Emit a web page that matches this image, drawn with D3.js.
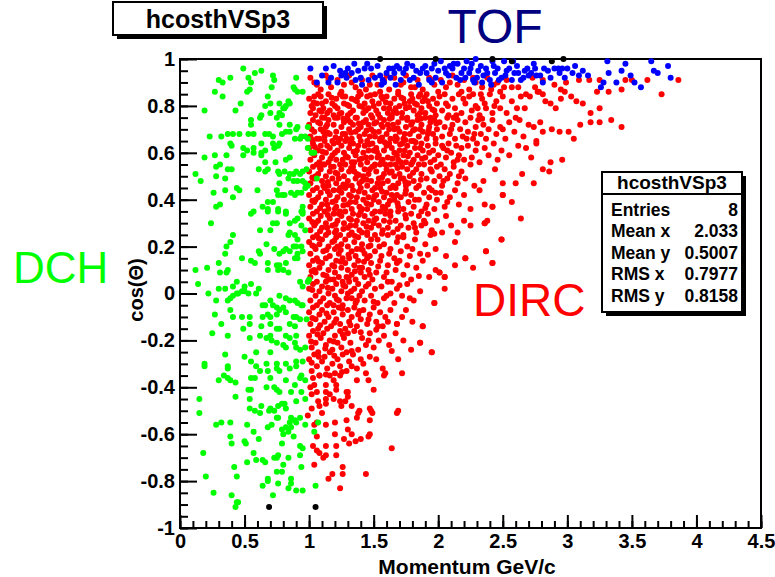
<!DOCTYPE html>
<html><head><meta charset="utf-8">
<script src="https://cdn.jsdelivr.net/npm/d3@7"></script>
<style>body{margin:0;background:#fff}svg{display:block}text{font-family:"Liberation Sans",Arial,Helvetica,sans-serif}</style>
</head><body><svg id="c" width="775" height="577"></svg>
<script>
// DCH (green)
const dch=[[.49,.96],[.63,.95],[.53,.92],[.58,.94],[.39,.92],[.30,.91],[.33,.90],[.72,.93],[.73,.91],[.90,.92],[.55,.90],[.54,.87],[.52,.86],[.27,.86],[.33,.84],[.71,.88],[.88,.88],[.89,.87],[.91,.86],[.95,.86],[.84,.82],[.85,.81],[.82,.80],[.80,.79],[.77,.81],[.68,.84],[.70,.81],[.66,.80],[.47,.81],[.43,.78],[.19,.78],[.62,.75],[.63,.76],[.55,.74],[.55,.72],[.75,.75],[.77,.77],[.79,.76],[.81,.79],[.77,.72],[.85,.72],[.91,.71],[.90,.70],[.99,.71],[.70,.77],[.46,.68],[.41,.68],[.37,.68],[.32,.67],[.23,.67],[.53,.68],[.57,.68],[.66,.68],[.69,.68],[.72,.67],[.79,.68],[.82,.69],[.85,.69],[.89,.66],[.93,.66],[.94,.67],[.97,.67],[.99,.66],[.39,.64],[.40,.63],[.63,.64],[.72,.64],[.77,.64],[.73,.62],[.76,.63],[.49,.62],[.52,.61],[.57,.60],[.63,.60],[.66,.61],[.57,.62],[.63,.59],[.27,.59],[.36,.59],[.19,.58],[.49,.59],[.99,.62],[1.02,.60],[1.04,.60],[.82,.57],[.85,.58],[.74,.56],[.66,.56],[.31,.55],[.28,.54],[.40,.53],[.37,.53],[.61,.53],[.66,.52],[.68,.53],[.76,.52],[.77,.51],[.81,.52],[.85,.51],[.88,.51],[.90,.52],[.93,.51],[.95,.52],[.98,.53],[.12,.51],[.16,.48],[.28,.50],[.35,.49],[.84,.49],[.88,.48],[.91,.48],[.95,.48],[.97,.47],[.97,.45],[.99,.46],[1.06,.49],[.77,.47],[.44,.45],[.46,.44],[.35,.44],[.26,.43],[.60,.44],[.75,.44],[.76,.42],[.79,.42],[.81,.42],[.86,.43],[.89,.42],[.91,.43],[.94,.43],[.41,.41],[.68,.39],[.72,.39],[.28,.37],[.31,.38],[.64,.37],[.68,.36],[.76,.36],[.82,.35],[.57,.35],[.95,.37],[.94,.35],[.95,.34],
[.55,.34],[.68,.35],[.76,.35],[.82,.34],[.95,.35],[.24,.30],[.72,.30],[.75,.30],[.85,.30],[.89,.31],[.91,.32],[.94,.29],[.97,.27],[.62,.27],[.70,.27],[.41,.25],[.85,.26],[.84,.25],[.89,.25],[.91,.23],[.39,.22],[.36,.20],[.35,.17],[.67,.21],[.61,.18],[.62,.17],[.73,.19],[.77,.17],[.80,.18],[.82,.19],[.85,.18],[.88,.20],[.90,.20],[.91,.17],[.94,.20],[.95,.18],[.48,.15],[.55,.14],[.58,.13],[.30,.13],[.68,.13],[.75,.12],[.77,.12],[.82,.13],[.89,.15],[.91,.15],[.12,.10],[.21,.11],[.31,.09],[.36,.09],[.37,.10],[.68,.10],[.76,.10],[.80,.10],[.84,.09],[.99,.05],[1.0,.06],[.14,.04],[.44,.05],[.55,.04],[.41,.03],[.50,.03],[.93,.05],[.95,.03],[.22,.00],[.30,.02],[.35,.02],[.39,-.02],[.41,-.01],[.44,0],[.45,.00],[.48,.01],[.50,.01],[.53,.00],[.61,.02],[.59,.00],[.77,-.01],[.82,-.02],[.85,-.03],[.89,-.03],[.91,-.04],[.94,-.05],[.95,-.05],[.28,-.03],[.37,-.03],[.39,-.07],[.64,-.05],[.66,-.05],[.70,-.03],[.72,-.05],[.75,-.06],[.77,-.07],[.80,-.06],[.27,-.09],[.41,-.10],[.48,-.10],[.54,-.10],[.64,-.10],[.68,-.09],[.70,-.10],[.75,-.09],[.82,-.08],[.88,-.10],[.90,-.10],[.93,-.11],[.98,-.11],[.32,-.13],[.49,-.15],[.54,-.13],[.63,-.14],[.70,-.13],[.75,-.15],[.77,-.15],[.85,-.13],[.89,-.14],[.25,-.17],[.37,-.18],[.54,-.19],[.62,-.18],[.70,-.18],[.67,-.19],[.71,-.20],[.82,-.18],[.85,-.19],[.90,-.18],[.75,-.21],[.80,-.22],[.82,-.23],[.89,-.21],[.90,-.23],[.93,-.24],[.97,-.23],[.59,-.25],[.70,-.25],[.35,-.26],[.50,-.27],[.55,-.29],[.67,-.30],[.75,-.30],[.82,-.30],[.90,-.29],[.95,-.29],[.19,-.30],[.37,-.31],
[.19,-.31],[.37,-.32],[.34,-.35],[.30,-.37],[.39,-.37],[.43,-.38],[.37,-.36],[.62,-.33],[.68,-.33],[.75,-.32],[.59,-.31],[.77,-.33],[.85,-.32],[.90,-.31],[.94,-.35],[.93,-.36],[.55,-.36],[.58,-.36],[.70,-.36],[.82,-.37],[.89,-.39],[.97,-.37],[.15,-.45],[.15,-.51],[.43,-.44],[.53,-.41],[.55,-.41],[.54,-.45],[.67,-.40],[.73,-.40],[.75,-.41],[.77,-.42],[.86,-.42],[.94,-.42],[.97,-.45],[.90,-.46],[.63,-.48],[.54,-.49],[.58,-.50],[.62,-.51],[.70,-.49],[.69,-.50],[.73,-.50],[.76,-.48],[.79,-.47],[.81,-.47],[.82,-.49],[.75,-.53],[.76,-.53],[.86,-.53],[.89,-.54],[.90,-.55],[.93,-.53],[.85,-.55],[.97,-.56],[.28,-.56],[.32,-.55],[.39,-.55],[.52,-.56],[.68,-.57],[.71,-.56],[.79,-.58],[.82,-.57],[.86,-.57],[.80,-.60],[.84,-.59],[.88,-.61],[.57,-.59],[.39,-.61],[.40,-.64],[.50,-.63],[.51,-.64],[.61,-.62],[.79,-.64],[.93,-.65],[.93,-.69],[.95,-.66],[.57,-.68],[.18,-.68],[.52,-.72],[.59,-.71],[.64,-.71],[.66,-.72],[.73,-.70],[.76,-.69],[.75,-.70],[.84,-.70],[.42,-.74],[.44,-.78],[.75,-.76],[.79,-.76],[.80,-.73],[.86,-.79],[.94,-.74],[.20,-.78],[.68,-.79],[.68,-.80],[.76,-.81],[.86,-.81],[.64,-.82],[.84,-.83],[.90,-.84],[.95,-.84],[1.05,-.82],[.26,-.85],[.40,-.86],[.72,-.86],[.45,-.89],[.44,-.89],[.43,-.91],[1.07,-.55],[1.04,-.59]];

// DIRC (red)
const dirc=[[1.01,.92],[1.06,.89],[1.13,.93],[1.17,.88],[1.22,.91],[1.27,.89],[1.31,.93],[1.36,.88],[1.41,.91],[1.44,.87],[1.49,.93],[1.53,.89],[1.58,.91],[1.62,.87],[1.66,.92],[1.71,.89],[1.75,.93],[1.79,.88],[1.84,.91],[1.88,.87],[1.93,.92],[1.97,.89],[2.02,.91],[2.06,.88],[2.11,.93],[2.15,.89],[2.2,.91],[2.24,.87],[2.29,.9],[2.34,.88],[2.38,.92],[2.43,.89],[2.48,.86],[2.53,.91],[2.57,.88],[1.09,.87],[1.25,.86],[1.39,.86],[1.55,.86],[1.69,.86],[1.86,.85],[2,.86],[2.18,.86],[2.33,.85],[2.46,.9],
[2.62,.88],[2.73,.92],[2.78,.86],[2.81,.91],[2.95,.87],[2.99,.9],[3.09,.91],[3.17,.91],[3.25,.91],[3.23,.86],[3.32,.86],[3.42,.87],[3.45,.91],[3.5,.91],[3.62,.91],[3.73,.85],[3.86,.91],[2.68,.85],[2.9,.89],
[1,.83],[1.01,.77],[1.02,.8],[1.04,.84],[1.05,.76],[1.06,.81],[1.08,.78],[1.09,.84],[1.11,.79],[1.12,.75],[1.13,.82],[1.15,.85],[1.16,.78],[1.18,.81],[1.19,.76],[1.21,.83],[1.22,.79],[1.24,.85],[1.25,.77],[1.27,.81],[1.28,.84],[1.3,.76],[1.31,.8],[1.33,.83],[1.34,.78],[1.36,.75],[1.37,.82],[1.39,.8],[1.4,.85],[1.42,.77],[1.43,.81],[1.45,.84],[1.46,.79],[1.48,.76],[1.49,.82],[1.51,.85],[1.52,.78],[1.54,.81],[1.55,.75],[1.57,.83],[1.58,.79],[1.6,.84],[1.61,.77],[1.63,.81],[1.64,.76],[1.66,.83],[1.67,.79],[1.69,.85],[1.7,.8],[1.72,.77],[1.73,.83],[1.75,.79],[1.76,.75],[1.78,.82],[1.79,.85],[1.81,.78],[1.82,.81],[1.84,.76],[1.85,.84],[1.87,.79],[1.88,.82],[1.9,.77],[1.91,.85],[1.93,.8],[1.94,.75],[1.96,.83],[1.97,.78],[1.99,.81],
[1.03,.79],[1.07,.85],[1.1,.81],[1.14,.77],[1.2,.8],[1.26,.84],[1.32,.77],[1.38,.84],[1.44,.78],[1.5,.8],[1.56,.84],[1.62,.79],[1.68,.77],[1.74,.81],[1.8,.83],[1.86,.77],[1.92,.82],[1.98,.76],
[2.01,.84],[2.03,.78],[2.06,.81],[2.08,.76],[2.11,.83],[2.13,.79],[2.16,.85],[2.18,.77],[2.21,.81],[2.24,.84],[2.26,.78],[2.29,.8],[2.32,.76],[2.34,.83],[2.37,.79],[2.4,.85],[2.42,.77],[2.45,.82],[2.48,.79],[2.5,.84],[2.14,.76],[2.27,.85],[2.05,.85],[2.36,.81],
[2.53,.77],[2.57,.82],[2.61,.79],[2.64,.84],[2.6,.75],[3.07,.82],[3.03,.84],[2.98,.86],[2.95,.83],[2.91,.79],[2.87,.81],[2.83,.82],[2.81,.85],[2.77,.86],[2.75,.88],[2.71,.84],[2.67,.79],[3.12,.81],[3.25,.79],[3.18,.77],
[1,.72],[1.01,.67],[1.03,.74],[1.04,.69],[1.06,.66],[1.07,.73],[1.09,.7],[1.1,.75],[1.12,.67],[1.13,.71],[1.15,.74],[1.16,.68],[1.18,.65],[1.19,.72],[1.21,.69],[1.22,.75],[1.24,.66],[1.25,.71],[1.27,.73],[1.28,.68],[1.3,.74],[1.31,.7],[1.33,.66],[1.34,.72],[1.36,.69],[1.37,.75],[1.39,.67],[1.4,.71],[1.42,.73],[1.43,.68],[1.45,.65],[1.46,.72],[1.48,.7],[1.49,.75],[1.51,.67],[1.52,.73],[1.54,.69],[1.55,.66],[1.57,.71],[1.58,.74],[1.6,.68],[1.61,.72],[1.63,.66],[1.64,.75],[1.66,.7],[1.67,.67],[1.69,.73],[1.7,.69],[1.72,.75],[1.73,.66],[1.75,.71],[1.76,.74],[1.78,.68],[1.79,.72],[1.81,.65],[1.82,.7],[1.84,.74],[1.85,.67],[1.87,.72],[1.88,.69],[1.9,.75],[1.91,.66],[1.93,.71],[1.94,.73],[1.96,.68],[1.97,.74],[1.99,.7],
[1.02,.7],[1.08,.66],[1.14,.72],[1.2,.75],[1.26,.68],[1.32,.73],[1.38,.7],[1.44,.74],[1.5,.69],[1.56,.72],[1.62,.7],[1.68,.66],[1.74,.68],[1.8,.73],[1.86,.7],[1.92,.68],[1.98,.66],[1.11,.69],[1.29,.66],[1.47,.67],[1.65,.72],
[2.01,.73],[2.03,.67],[2.05,.71],[2.07,.75],[2.09,.68],[2.11,.72],[2.13,.66],[2.15,.74],[2.17,.7],[2.19,.67],[2.21,.73],[2.23,.69],[2.25,.75],[2.27,.66],[2.29,.71],[2.31,.74],[2.33,.68],[2.35,.72],[2.37,.66],[2.39,.7],[2.12,.75],[2.28,.68],
[2.42,.74],[2.45,.68],[2.48,.71],[2.52,.66],[2.55,.73],[2.59,.69],[2.63,.74],[2.66,.67],[2.7,.72],[2.74,.71],[2.76,.65],[2.79,.73],
[2.88,.7],[2.94,.69],[3.01,.69],[3.1,.72],[3.18,.73],[3.25,.73],[3.34,.74],[3.42,.71],[3.05,.66],[2.81,.69],
[1,.62],[1.01,.57],[1.03,.64],[1.04,.59],[1.06,.55],[1.07,.61],[1.09,.63],[1.1,.58],[1.12,.65],[1.13,.6],[1.15,.56],[1.16,.62],[1.18,.59],[1.19,.64],[1.21,.57],[1.22,.61],[1.24,.55],[1.25,.63],[1.27,.6],[1.28,.65],[1.3,.58],[1.31,.62],[1.33,.56],[1.34,.64],[1.36,.59],[1.37,.61],[1.39,.57],[1.4,.65],[1.42,.6],[1.43,.63],[1.45,.56],[1.46,.61],[1.48,.58],[1.49,.64],[1.51,.55],[1.52,.62],[1.54,.59],[1.55,.65],[1.57,.57],[1.58,.61],[1.6,.63],[1.61,.58],[1.63,.55],[1.64,.62],[1.66,.6],[1.67,.65],[1.69,.57],[1.7,.61],[1.72,.64],[1.73,.59],[1.75,.56],[1.76,.63],[1.78,.6],[1.79,.65],[1.81,.57],[1.82,.62],[1.84,.59],[1.85,.55],[1.87,.64],[1.88,.61],
[1.02,.6],[1.08,.56],[1.14,.63],[1.2,.6],[1.26,.57],[1.32,.64],[1.38,.63],[1.44,.58],[1.5,.61],[1.56,.56],[1.62,.64],[1.68,.59],[1.74,.61],[1.8,.56],[1.86,.62],[1.11,.55],[1.35,.56],[1.53,.58],[1.71,.56],
[1.9,.58],[1.92,.63],[1.94,.56],[1.96,.61],[1.98,.64],[2,.59],[2.02,.55],[2.04,.62],[2.06,.58],[2.08,.64],[2.1,.6],[2.12,.56],[2.14,.63],[2.16,.59],[2.18,.62],[2.2,.57],[1.97,.57],[2.07,.61],
[2.23,.63],[2.26,.58],[2.29,.61],[2.32,.56],[2.36,.62],[2.39,.59],[2.43,.64],[2.46,.57],[2.49,.61],
[2.55,.59],[2.62,.63],[2.68,.62],[2.76,.64],[2.87,.56],[2.96,.57],[2.72,.58],
[1,.52],[1.01,.47],[1.03,.54],[1.04,.49],[1.06,.45],[1.07,.51],[1.09,.53],[1.1,.48],[1.12,.55],[1.13,.5],[1.15,.46],[1.16,.52],[1.18,.49],[1.19,.54],[1.21,.47],[1.22,.51],[1.24,.45],[1.25,.53],[1.27,.5],[1.28,.55],[1.3,.48],[1.31,.52],[1.33,.46],[1.34,.54],[1.36,.49],[1.37,.51],[1.39,.47],[1.4,.55],[1.42,.5],[1.43,.53],[1.45,.46],[1.46,.51],[1.48,.48],[1.49,.54],[1.51,.45],[1.52,.52],[1.54,.49],[1.55,.55],[1.57,.47],[1.58,.51],[1.6,.53],[1.61,.48],[1.63,.45],[1.64,.52],[1.66,.5],[1.67,.55],[1.69,.47],[1.7,.51],[1.72,.54],[1.73,.49],[1.75,.46],[1.76,.53],[1.78,.5],[1.79,.55],
[1.05,.5],[1.11,.46],[1.17,.54],[1.23,.49],[1.29,.46],[1.35,.52],[1.41,.48],[1.47,.53],[1.53,.47],[1.59,.55],[1.65,.46],[1.71,.49],[1.77,.47],
[1.81,.48],[1.83,.53],[1.85,.46],[1.87,.51],[1.89,.55],[1.91,.49],[1.93,.45],[1.95,.52],[1.97,.48],[1.99,.54],[2.01,.5],[2.03,.46],[2.05,.53],[2.07,.49],[2.09,.51],
[2.12,.54],[2.15,.47],[2.18,.52],[2.21,.49],[2.25,.55],[2.28,.46],
[2.35,.48],[2.44,.53],[2.5,.47],[2.6,.47],[2.65,.51],[2.74,.47],[2.81,.53],[2.86,.52],
[1,.42],[1.01,.37],[1.03,.44],[1.04,.39],[1.06,.35],[1.07,.41],[1.09,.43],[1.1,.38],[1.12,.45],[1.13,.4],[1.15,.36],[1.16,.42],[1.18,.39],[1.19,.44],[1.21,.37],[1.22,.41],[1.24,.35],[1.25,.43],[1.27,.4],[1.28,.45],[1.3,.38],[1.31,.42],[1.33,.36],[1.34,.44],[1.36,.39],[1.37,.41],[1.39,.37],[1.4,.45],[1.42,.4],[1.43,.43],[1.45,.36],[1.46,.41],[1.48,.38],[1.49,.44],[1.51,.35],[1.52,.42],[1.54,.39],[1.55,.45],[1.57,.37],[1.58,.41],[1.6,.43],[1.61,.38],[1.63,.35],[1.64,.42],[1.66,.4],[1.67,.45],[1.69,.37],
[1.05,.4],[1.14,.38],[1.23,.44],[1.32,.39],[1.41,.36],[1.5,.4],[1.59,.36],[1.68,.42],[1.2,.36],
[1.71,.41],[1.73,.36],[1.75,.44],[1.77,.39],[1.79,.42],[1.81,.37],[1.83,.45],[1.85,.4],[1.87,.35],[1.89,.43],[1.91,.38],[1.93,.41],[1.95,.44],[1.97,.36],[1.99,.4],
[2.02,.43],[2.05,.37],[2.09,.41],[2.13,.44],[2.16,.38],[2.2,.42],
[2.25,.36],[2.32,.44],[2.36,.38],[2.42,.37],[2.5,.42],[2.57,.39],
[1,.32],[1.01,.27],[1.03,.34],[1.04,.29],[1.06,.25],[1.07,.31],[1.09,.33],[1.1,.28],[1.12,.35],[1.13,.3],[1.15,.26],[1.16,.32],[1.18,.29],[1.19,.34],[1.21,.27],[1.22,.31],[1.24,.25],[1.25,.33],[1.27,.3],[1.28,.35],[1.3,.28],[1.31,.32],[1.33,.26],[1.34,.34],[1.36,.29],[1.37,.31],[1.39,.27],[1.4,.35],[1.42,.3],[1.43,.33],[1.45,.26],[1.46,.31],[1.48,.28],[1.49,.34],[1.51,.25],[1.52,.32],[1.54,.29],[1.55,.35],[1.57,.27],[1.58,.31],
[1.05,.3],[1.14,.28],[1.23,.34],[1.32,.29],[1.41,.26],[1.5,.3],[1.59,.34],[1.2,.26],
[1.61,.28],[1.63,.33],[1.65,.26],[1.67,.31],[1.69,.35],[1.71,.29],[1.73,.25],[1.75,.32],[1.77,.28],[1.79,.34],[1.81,.3],[1.83,.26],[1.85,.33],[1.87,.29],[1.89,.31],
[1.92,.34],[1.95,.27],[1.99,.31],[2.03,.26],[2.06,.33],[2.1,.29],
[2.2,.31],[2.25,.29],[2.36,.3],[2.38,.31],[2.64,.32],[2.15,.26],
[1,.22],[1.01,.17],[1.03,.24],[1.05,.19],[1.06,.15],[1.08,.21],[1.1,.23],[1.11,.18],[1.13,.25],[1.15,.2],[1.16,.16],[1.18,.22],[1.2,.19],[1.21,.24],[1.23,.17],[1.25,.21],[1.26,.15],[1.28,.23],[1.3,.2],[1.31,.25],[1.33,.18],[1.35,.22],[1.36,.16],[1.38,.24],[1.4,.19],[1.41,.21],[1.43,.17],[1.45,.25],[1.46,.2],[1.48,.23],[1.04,.2],[1.22,.2],[1.37,.19],[1.47,.16],
[1.51,.18],[1.53,.23],[1.56,.16],[1.58,.21],[1.61,.25],[1.63,.19],[1.66,.15],[1.68,.22],[1.71,.18],[1.73,.24],[1.76,.2],[1.78,.16],
[1.82,.23],[1.86,.17],[1.9,.21],[1.94,.25],[1.98,.19],
[2.06,.16],[2.13,.22],[2.21,.15],[2.37,.18],[2.49,.23],
[1,.12],[1.01,.07],[1.03,.14],[1.05,.09],[1.06,.05],[1.08,.11],[1.1,.13],[1.11,.08],[1.13,.15],[1.15,.1],[1.16,.06],[1.18,.12],[1.2,.09],[1.21,.14],[1.23,.07],[1.25,.11],[1.26,.05],[1.28,.13],[1.3,.1],[1.31,.15],[1.33,.08],[1.35,.12],[1.36,.06],[1.38,.14],[1.4,.09],[1.41,.11],[1.43,.07],[1.45,.15],[1.46,.1],[1.48,.13],[1.04,.1],[1.19,.06],[1.29,.07],[1.39,.11],[1.49,.06],
[1.52,.09],[1.55,.14],[1.58,.07],[1.61,.12],[1.64,.05],[1.67,.1],[1.7,.14],[1.73,.08],[1.76,.12],[1.79,.06],
[1.83,.11],[1.88,.14],[1.93,.07],[1.98,.1],
[2.01,.09],[2.05,.07],[2.13,.12],[2.42,.13],[2.27,.11],
[1,.02],[1.01,-.03],[1.03,.04],[1.05,-.01],[1.06,-.05],[1.08,.01],[1.1,.03],[1.11,-.02],[1.13,.05],[1.15,0],[1.16,-.04],[1.18,.02],[1.2,-.01],[1.21,.04],[1.23,-.03],[1.25,.01],[1.26,-.05],[1.28,.03],[1.3,0],[1.31,.05],[1.33,-.02],[1.35,.02],[1.36,-.04],[1.38,.04],[1.19,-.05],[1.29,-.02],[1.39,-.01],
[1.41,.01],[1.43,-.03],[1.46,.04],[1.48,-.01],[1.51,.02],[1.53,-.04],[1.56,.03],[1.58,-.02],[1.61,.05],[1.63,0],[1.66,-.04],[1.68,.02],
[1.72,-.01],[1.76,.04],[1.81,-.03],[1.86,.01],
[1.97,-.04],[2.05,.02],
[1,-.08],[1.01,-.13],[1.03,-.06],[1.05,-.11],[1.07,-.15],[1.08,-.09],[1.1,-.07],[1.12,-.12],[1.14,-.05],[1.15,-.1],[1.17,-.14],[1.19,-.08],[1.21,-.11],[1.23,-.06],[1.24,-.13],[1.26,-.09],[1.28,-.15],[1.3,-.07],[1.31,-.12],[1.33,-.1],[1.35,-.06],[1.37,-.14],[1.38,-.09],[1.4,-.11],
[1.42,-.07],[1.45,-.13],[1.47,-.09],[1.5,-.06],[1.52,-.12],[1.55,-.08],[1.57,-.14],[1.59,-.1],
[1.63,-.07],[1.68,-.13],[1.72,-.1],[1.8,-.12],[1.88,-.14],
[1,-.18],[1.02,-.23],[1.03,-.16],[1.05,-.21],[1.07,-.25],[1.09,-.19],[1.11,-.17],[1.13,-.22],[1.14,-.15],[1.16,-.2],[1.18,-.24],[1.2,-.18],[1.22,-.21],[1.24,-.16],[1.25,-.23],[1.27,-.19],[1.29,-.25],[1.3,-.17],
[1.32,-.21],[1.35,-.16],[1.38,-.24],[1.41,-.19],[1.44,-.22],[1.47,-.17],[1.5,-.23],[1.54,-.2],[1.58,-.18],
[1.62,-.22],[1.67,-.17],[1.73,-.2],[1.79,-.24],[1.86,-.21],[1.95,-.25],
[1,-.28],[1.02,-.33],[1.04,-.26],[1.06,-.31],[1.08,-.35],[1.1,-.29],[1.12,-.27],[1.14,-.32],[1.16,-.25],[1.18,-.3],[1.2,-.34],[1.22,-.28],[1.24,-.31],[1.26,-.26],[1.29,-.33],
[1.31,-.29],[1.34,-.26],[1.37,-.32],[1.4,-.28],[1.44,-.34],[1.47,-.27],
[1.57,-.32],[1.59,-.34],[1.69,-.28],[1.72,-.34],
[1.37,-.37],[1.46,-.37],[1.5,-.41],[1.01,-.4],[1.04,-.39],[1.13,-.39],[1.21,-.39],[1.13,-.42],[1.21,-.41],[1.29,-.42],[1.3,-.42],[1.02,-.43],[1.07,-.46],[1.13,-.45],[1.19,-.45],[1.24,-.46],[1.28,-.46],[1.3,-.44],[1.02,-.49],[1.08,-.48],[1.13,-.47],[.99,-.52],[1.04,-.56],[1.06,-.61],[1.13,-.56],[1.2,-.55],[1.29,-.54],[1.37,-.53],[1.38,-.51],[1.39,-.5],[1.47,-.49],[1.49,-.51],[1.47,-.54],[1.3,-.58],[1.33,-.6],[1.4,-.62],[1.46,-.61],[1.36,-.63],[1.31,-.64],[1.21,-.65],[1.13,-.65],[1.08,-.68],[1.06,-.67],[1.03,-.65],[1.04,-.73],[1.15,-.79],[1.18,-.77],[1.26,-.74],[1.26,-.77],[1.24,-.83],[1.44,-.77],[1.64,-.66],[1.68,-.51],[1.69,-.5],[1.13,-.69],[1.21,-.69],[1.11,-.7],[1.03,-.36],[1.08,-.35],[1.16,-.35],[1.24,-.35],[1.19,-.37],[1.58,-.35],[1.48,-.5],[1.47,-.6],[1.95,-.25],[1.86,-.21],[1.88,-.14],[1.68,-.13],[1.97,-.04],[2.05,.07],[2.01,.09],[2.49,.23],[2.37,.18],[2.42,.13],[2.21,.15],[2.5,.42],[2.42,.37],[2.36,.3],
[1.04,.9],[1.15,.91],[1.33,.9],[1.47,.89],[1.6,.93],[1.73,.9],[1.82,.88],[1.95,.91],[2.09,.9],[2.27,.92],[2.41,.87],[2.51,.88],
[1.035,.815],[1.095,.775],[1.175,.835],[1.235,.765],[1.295,.805],[1.355,.825],[1.415,.795],[1.475,.845],[1.535,.765],[1.595,.815],[1.655,.775],[1.715,.835],[1.775,.795],[1.835,.805],[1.895,.835],[1.955,.785],[2.075,.8],[2.195,.83],[2.305,.79],[2.435,.8],
[1.025,.655],[1.085,.725],[1.145,.685],[1.205,.665],[1.265,.745],[1.325,.685],[1.385,.725],[1.445,.695],[1.505,.725],[1.565,.665],[1.625,.745],[1.685,.705],[1.745,.655],[1.805,.695],[1.865,.745],[1.925,.695],[1.985,.725],[2.1,.7],[2.22,.66],[2.34,.745],[2.5,.7],
[1.045,.625],[1.105,.605],[1.165,.575],[1.225,.645],[1.285,.585],[1.345,.605],[1.405,.575],[1.465,.635],[1.525,.605],[1.585,.645],[1.645,.575],[1.705,.635],[1.765,.585],[1.825,.645],[1.875,.575],[1.93,.6],[2.03,.63],[2.15,.57],[2.3,.64],
[1.025,.495],[1.085,.535],[1.145,.475],[1.205,.515],[1.265,.465],[1.325,.535],[1.385,.505],[1.445,.485],[1.505,.545],[1.565,.495],[1.625,.515],[1.685,.535],[1.745,.475],[1.805,.515],[1.865,.485],[1.94,.53],[2.04,.48],[2.16,.5],
[1.025,.395],[1.085,.365],[1.145,.435],[1.205,.395],[1.265,.375],[1.325,.415],[1.385,.435],[1.445,.385],[1.505,.415],[1.565,.435],[1.625,.395],[1.685,.385],[1.745,.425],[1.82,.4],[1.9,.365],[1.98,.43],[2.07,.39],
[1.025,.305],[1.085,.265],[1.145,.335],[1.205,.295],[1.265,.275],[1.325,.315],[1.385,.335],[1.445,.285],[1.505,.315],[1.565,.255],[1.625,.305],[1.685,.275],[1.745,.335],[1.82,.28],[1.9,.3],[1.97,.255],
[1.025,.205],[1.075,.235],[1.135,.185],[1.195,.225],[1.245,.185],[1.305,.165],[1.355,.245],[1.415,.185],[1.475,.205],[1.545,.2],[1.62,.17],[1.69,.24],[1.8,.19],[1.92,.165],
[1.02,.095],[1.075,.135],[1.135,.075],[1.195,.115],[1.245,.135],[1.305,.065],[1.355,.095],[1.425,.135],[1.47,.08],[1.535,.115],[1.6,.09],[1.68,.13],[1.85,.075],
[1.025,.015],[1.085,-.035],[1.145,.025],[1.215,-.025],[1.265,.035],[1.325,.01],[1.37,-.03],[1.44,.03],[1.5,-.035],[1.6,-.01],[1.7,.035],[1.78,-.02],
[1.025,-.105],[1.085,-.135],[1.135,-.085],[1.195,-.125],[1.255,-.065],[1.32,-.135],[1.39,-.075],[1.46,-.11],[1.535,-.14],[1.61,-.12],[1.75,-.07],
[1.015,-.205],[1.065,-.175],[1.125,-.235],[1.19,-.205],[1.26,-.175],[1.33,-.245],[1.4,-.165],[1.46,-.2],[1.52,-.155],[1.64,-.245],
[1.02,-.295],[1.075,-.27],[1.13,-.345],[1.195,-.265],[1.255,-.335],[1.33,-.31],[1.42,-.3],[1.52,-.28],
[1.06,-.42],[1.16,-.43],[1.25,-.48],[1.1,-.51],[1.2,-.6],[1.33,-.48],[1.06,-.55],[1.27,-.62]];

// TOF (blue)
const tof=[[1.01,.96],[1.13,.96],[1.06,.90],[1.15,.90],[1.24,.95],[1.28,.94],[1.30,.96],[1.33,.94],[1.35,.98],[1.38,.95],[1.40,.92],[1.43,.96],[1.46,.91],[1.48,.96],[1.29,.92],[1.25,.93],
[1.51,.92],[1.55,.93],[1.57,.91],[1.58,.90],[1.60,.94],[1.62,.96],[1.65,.96],[1.68,.97],[1.66,.94],[1.70,.96],[1.73,.94],[1.75,.96],[1.78,.91],[1.80,.97],[1.83,.95],[1.86,.94],[1.88,.96],[1.91,.94],[1.93,.91],[1.95,.96],[1.97,.98],[2.00,.95],[2.02,.99],[2.05,.96],[2.06,.94],[2.09,.97],[2.11,.96],[2.14,.92],[2.15,.98],[2.18,.94],[2.20,.96],[2.22,.99],[2.24,.94],[2.25,.96],[2.27,.91],[2.28,.90],[2.29,1.0],[2.31,.95],[2.33,.97],[2.35,.93],[2.37,.96],[2.40,.91],[2.41,.89],[2.42,.99],[2.44,.94],[2.46,.96],[2.49,.92],[2.51,.99],[2.53,.95],[2.55,.96],[2.58,.99],[2.59,.94],[2.62,.94],[2.64,.91],[2.67,.95],[2.69,.96],[2.72,.94],[2.75,.96],[2.76,.93],[2.81,.90],[2.82,.96],[2.87,.92],[2.90,.96],[2.93,.96],[2.94,.94],[2.96,.96],[3.00,.96],[3.04,.94],[3.09,.93],[3.16,.93],
[3.31,.99],[3.32,.94],[3.42,.95],[3.45,.98],[3.49,.93],[3.52,.90],[3.57,.88],[3.65,.99],[3.67,.95],[3.70,.94],[3.78,.97],[3.80,.92],[3.38,.90],[3.26,.88],[3.28,.90],
[1.10,.93],[1.19,.97],[1.22,.90],[1.36,.91],[1.45,.98],[1.53,.97],[1.56,.89],[1.63,.92],[1.71,.91],[1.76,.98],[1.81,.92],[1.85,.89],[1.90,.97],[1.98,.92],[2.03,.90],[2.08,.93],[2.12,.98],[2.17,.91],[2.21,.92],[2.26,.98],[2.30,.92],[2.34,.90],[2.38,.94],[2.43,.97],[2.47,.91],[2.52,.93],[2.57,.91],[2.61,.97],[2.66,.92],[2.70,.93],[2.74,.98],[2.79,.93],[2.85,.95],[2.98,.92],[3.06,.97],[3.12,.95],[1.17,.92],[1.41,.89],[1.67,.89],[1.95,.90]];

// other (black)
const other=[[1.55,1.0],[1.98,1.0],[2.42,1.0],[2.57,.99],[2.88,.99],[2.97,1.0],[.69,-.91],[1.05,-.91]];

const xTickValues=[0,0.5,1,1.5,2,2.5,3,3.5,4,4.5];
const xTickLabels=["0","0.5","1","1.5","2","2.5","3","3.5","4","4.5"];
const yTickValues=[-1,-0.8,-0.6,-0.4,-0.2,0,0.2,0.4,0.6,0.8,1];
const yTickLabels=["-1","-0.8","-0.6","-0.4","-0.2","0","0.2","0.4","0.6","0.8","1"];
const statLabels=["Entries","Mean x","Mean y","RMS x","RMS y"];
const statValues=["8","2.033","0.5007","0.7977","0.8158"];
const histName="hcosthVSp3";

const svg=d3.select("#c");
const x=d3.scaleLinear().domain([0,4.5]).range([180,761]);
const y=d3.scaleLinear().domain([-1,1]).range([528,59]);

// frame
svg.append("rect").attr("x",180).attr("y",59).attr("width",581).attr("height",469)
  .attr("fill","none").attr("stroke","#000").attr("stroke-width",2);

function styleAxis(g){g.select(".domain").remove();g.selectAll(".tick line").attr("stroke","#000").attr("stroke-width",2);
  g.selectAll(".tick text").attr("fill","#000").style("font-family",'"Liberation Sans",Arial,sans-serif').style("font-weight","bold").style("font-size","20px");}

// x axis
svg.append("g").attr("transform","translate(0,528)")
  .call(d3.axisBottom(x).tickValues(x.ticks(45)).tickSize(-7).tickFormat("")).call(styleAxis);
svg.append("g").attr("transform","translate(0,528)")
  .call(d3.axisBottom(x).tickValues(xTickValues).tickSize(-13).tickPadding(6).tickFormat((d,i)=>xTickLabels[i])).call(styleAxis);
// y axis
svg.append("g").attr("transform","translate(180,0)")
  .call(d3.axisLeft(y).tickValues(y.ticks(40)).tickSize(-8).tickFormat("")).call(styleAxis);
svg.append("g").attr("transform","translate(180,0)")
  .call(d3.axisLeft(y).tickValues(yTickValues).tickSize(-17).tickPadding(5).tickFormat((d,i)=>yTickLabels[i])).call(styleAxis);

// axis titles
svg.append("text").attr("x",467).attr("y",574).attr("text-anchor","middle")
  .style("font-weight","bold").style("font-size","21px").text("Momentum GeV/c");
svg.append("text").attr("transform","translate(143,290) rotate(-90)").attr("text-anchor","middle")
  .style("font-weight","bold").style("font-size","20px").text("cos(\u0398)");

// points
const R=3;
function dots(data,color){svg.append("g").selectAll("circle").data(data).join("circle")
  .attr("cx",d=>x(d[0])).attr("cy",d=>y(d[1])).attr("r",R).attr("fill",color);}
dots(dirc,"#ff0000");
dots(dch,"#00ff00");
dots(tof,"#0000ff");
dots(other,"#000000");

// title box
svg.append("rect").attr("x",117).attr("y",6).attr("width",210).attr("height",33).attr("fill","#000");
svg.append("rect").attr("x",113).attr("y",2).attr("width",210).attr("height",33).attr("fill","#fff").attr("stroke","#000").attr("stroke-width",2);
svg.append("text").attr("x",218).attr("y",28).attr("text-anchor","middle")
  .style("font-weight","bold").style("font-size","25px").text(histName);

// stats box
svg.append("rect").attr("x",606).attr("y",176).attr("width",140).attr("height",140).attr("fill","#000");
svg.append("rect").attr("x",602).attr("y",172).attr("width",140).attr("height",140).attr("fill","#fff").attr("stroke","#000").attr("stroke-width",2);
svg.append("line").attr("x1",602).attr("x2",742).attr("y1",194).attr("y2",194).attr("stroke","#000").attr("stroke-width",2);
svg.append("text").attr("x",672).attr("y",189).attr("text-anchor","middle")
  .style("font-weight","bold").style("font-size","19px").text(histName);
const rowY=[216,237,259,280,302];
statLabels.forEach((l,i)=>{
  svg.append("text").attr("x",611).attr("y",rowY[i]).style("font-weight","bold").style("font-size","17.5px").text(l);
  svg.append("text").attr("x",738).attr("y",rowY[i]).attr("text-anchor","end").style("font-weight","bold").style("font-size","17.5px").text(statValues[i]);
});

// detector labels
svg.append("text").attr("x",495).attr("y",43).attr("text-anchor","middle").attr("fill","#000080").style("font-size","48px").text("TOF");
svg.append("text").attr("x",13).attr("y",283).attr("fill","#00ff00").style("font-size","44px").text("DCH");
svg.append("text").attr("x",473).attr("y",316).attr("fill","#ff0000").style("font-size","46px").text("DIRC");
</script></body></html>
